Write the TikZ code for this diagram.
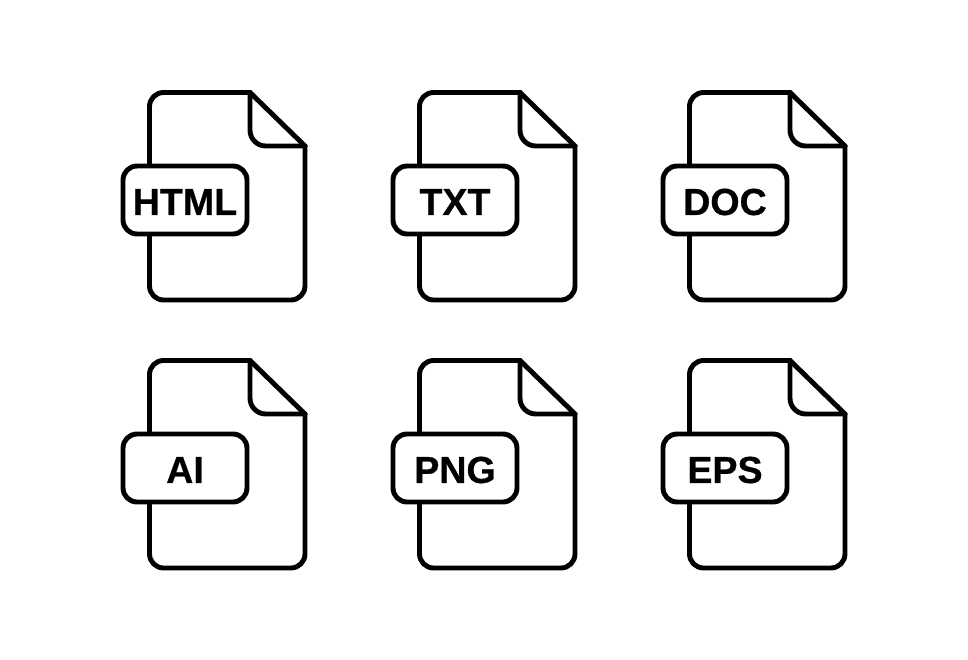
\documentclass[tikz,border=0pt]{standalone}
\usepackage{fontspec}
\setmainfont[BoldFeatures={FakeBold=0.6}]{Liberation Sans}
\usepackage{xcolor}
\tikzset{
	fileline/.style = {line width = 2.8pt, line join = round, line cap = round, black},
	filetag/.style = {draw, fileline, fill = white, rounded corners = 8pt, minimum width = 124*0.02cm, minimum height = 68*0.02cm, inner sep = 0pt, font = \bfseries\fontsize{21.4}{21.4}\selectfont}
}
\begin{document}
\begin{tikzpicture}[x = 0.02cm, y = -0.02cm]
	\useasboundingbox (0, 0) rectangle (968, 660);
	\foreach \col/\row/\ext in {0/0/HTML, 270/0/TXT, 540/0/DOC, 0/268/AI, 270/268/PNG, 540/268/EPS}{
		\begin{scope}[shift = {(\col, \row)}]
			\draw[fileline, rounded corners = 8pt] (250, 92.5) -- (149.5, 92.5) -- (149.5, 300) -- (305, 300) -- (305, 146);
			\draw[fileline] (250, 92.5) -- (305, 146);
			\draw[fileline, rounded corners = 9pt] (250, 92.5) -- (250, 146) -- (305, 146);
			\node[filetag] (tag\ext) at (185, 200) {\raisebox{-8.5pt}[0pt][0pt]{\ext}};
		\end{scope}
	}
\end{tikzpicture}
\end{document}
